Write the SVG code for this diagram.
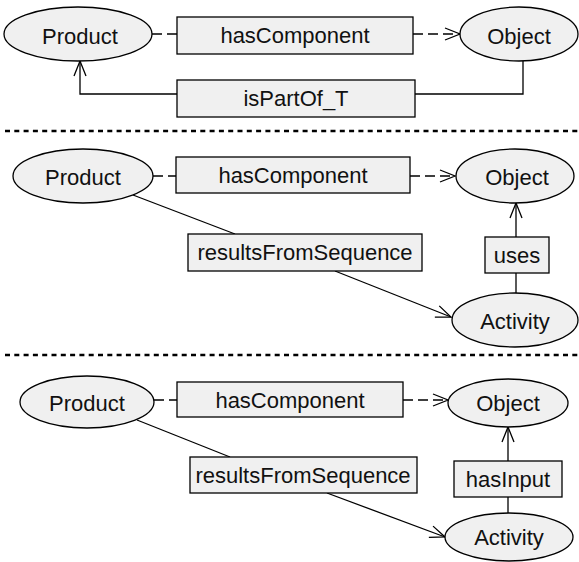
<svg xmlns="http://www.w3.org/2000/svg" width="579" height="562" viewBox="0 0 579 562">
<style>
.node ellipse{fill:#f0f0f0;stroke:#000;stroke-width:1.3}
.node rect{fill:#f0f0f0;stroke:#000;stroke-width:1.3}
text{font-family:"Liberation Sans",Arial,sans-serif;font-size:22px;fill:#111;text-anchor:middle}
.conn path{fill:none;stroke:#000;stroke-width:1.3}
.conn .dash{stroke-dasharray:10 5}
.sep{stroke:#000;stroke-width:2.5;stroke-dasharray:5 4.3}
</style>
<defs>
<marker id="arr" markerWidth="20" markerHeight="16" refX="16" refY="8" orient="auto" markerUnits="userSpaceOnUse">
<path d="M1,2 L16,8 L1,14" fill="none" stroke="#000" stroke-width="1.3"/>
</marker>
</defs>
<rect width="579" height="562" fill="#fff"/>
<g id="separators">
<line class="sep" x1="5" y1="131" x2="579" y2="131"/>
<line class="sep" x1="5" y1="355" x2="579" y2="355"/>
</g>
<g class="conn" id="connectors">
<path class="dash" d="M152,34 H177"/>
<path class="dash" d="M413,34 H460" marker-end="url(#arr)"/>
<path d="M523,61 V94 H415"/>
<path d="M177,94 H80 V61" marker-end="url(#arr)"/>
<path class="dash" d="M153,176 H176"/>
<path class="dash" d="M410,176 H455" marker-end="url(#arr)"/>
<path d="M133,195 L235,234"/>
<path d="M335,271 L451,317" marker-end="url(#arr)"/>
<path d="M516,237 V203" marker-end="url(#arr)"/>
<path d="M516,273 V293"/>
<path class="dash" d="M154,400 H177"/>
<path class="dash" d="M403,400 H448" marker-end="url(#arr)"/>
<path d="M137,420 L230,457"/>
<path d="M327,493 L445,537" marker-end="url(#arr)"/>
<path d="M508,461 V427" marker-end="url(#arr)"/>
<path d="M508,497 V513"/>
</g>
<g class="node" id="product1"><ellipse cx="78" cy="34" rx="74" ry="27"/><text x="80" y="44">Product</text></g>
<g class="node" id="hasComponent1"><rect x="177" y="17" width="236" height="37"/><text x="295" y="43">hasComponent</text></g>
<g class="node" id="object1"><ellipse cx="519" cy="34" rx="59" ry="27"/><text x="519" y="44">Object</text></g>
<g class="node" id="isPartOf1"><rect x="177" y="80" width="238" height="37"/><text x="296" y="106">isPartOf_T</text></g>

<g class="node" id="product2"><ellipse cx="83" cy="176" rx="70" ry="27"/><text x="83" y="185">Product</text></g>
<g class="node" id="hasComponent2"><rect x="176" y="157" width="234" height="36"/><text x="293" y="183">hasComponent</text></g>
<g class="node" id="object2"><ellipse cx="515" cy="176" rx="59" ry="27"/><text x="517" y="185">Object</text></g>
<g class="node" id="resultsFromSequence2"><rect x="188" y="234" width="234" height="37"/><text x="305" y="260">resultsFromSequence</text></g>
<g class="node" id="uses2"><rect x="485" y="237" width="64" height="36"/><text x="517" y="263">uses</text></g>
<g class="node" id="activity2"><ellipse cx="515" cy="320" rx="63" ry="27"/><text x="515" y="329">Activity</text></g>

<g class="node" id="product3"><ellipse cx="87" cy="402" rx="67" ry="26"/><text x="87" y="411">Product</text></g>
<g class="node" id="hasComponent3"><rect x="177" y="382" width="226" height="35"/><text x="290" y="408">hasComponent</text></g>
<g class="node" id="object3"><ellipse cx="508" cy="403" rx="60" ry="24"/><text x="508" y="411">Object</text></g>
<g class="node" id="resultsFromSequence3"><rect x="190" y="457" width="227" height="36"/><text x="303" y="483">resultsFromSequence</text></g>
<g class="node" id="hasInput3"><rect x="454" y="461" width="108" height="36"/><text x="508" y="487">hasInput</text></g>
<g class="node" id="activity3"><ellipse cx="509" cy="537" rx="64" ry="24"/><text x="509" y="545">Activity</text></g>
</svg>
